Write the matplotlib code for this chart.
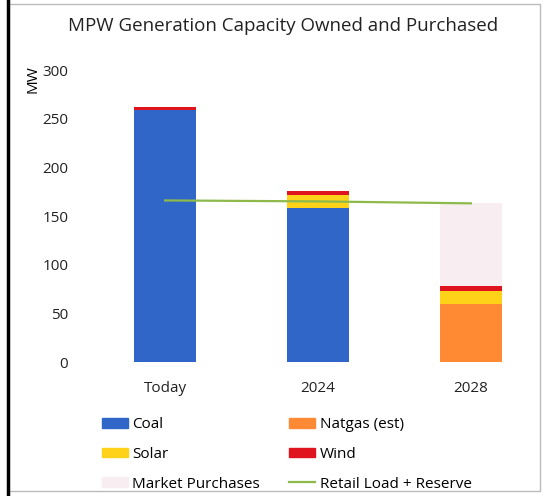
import matplotlib
matplotlib.use("Agg")
import matplotlib.pyplot as plt
import numpy as np
from matplotlib.patches import Patch, Rectangle
from matplotlib.lines import Line2D

categories = ["Today", "2024", "2028"]
coal = [259, 158, 0]
natgas = [0, 0, 60]
solar = [0, 14, 13]
wind = [3, 4, 5]
market = [0, 0, 85]
retail_load = [166, 165, 163]

colors = {
    "Coal": "#2F66C8",
    "Natgas (est)": "#FF8A33",
    "Solar": "#FFD21A",
    "Wind": "#E0141E",
    "Market Purchases": "#F8EEF1",
}
line_color = "#8DBA4A"

plt.rcParams["font.family"] = ["Open Sans", "DejaVu Sans"]

fig = plt.figure(figsize=(5.5, 4.96), dpi=100)
ax = fig.add_axes([110 / 550, 134 / 496, 420 / 550, 292 / 496])

x = np.arange(len(categories))
w = 0.40
bottom = np.zeros(len(categories))
for name, vals in [("Coal", coal), ("Natgas (est)", natgas), ("Solar", solar),
                   ("Wind", wind), ("Market Purchases", market)]:
    ax.bar(x, vals, w, bottom=bottom, color=colors[name], linewidth=0)
    bottom += np.array(vals)

ax.plot(x, retail_load, color=line_color, linewidth=1.6)

ax.set_xlim(-0.36, 2.386)
ax.set_ylim(0, 300)
ax.set_yticks(range(0, 301, 50))
ax.set_xticks(x)
ax.set_xticklabels(categories)
for s in ax.spines.values():
    s.set_visible(False)
ax.tick_params(axis="both", length=0, labelsize=11, colors="#222222")
ax.tick_params(axis="y", pad=30)
ax.tick_params(axis="x", pad=14)

fig.text(0.06, 0.84, "MW", rotation=90, fontsize=11, ha="center", va="center")
fig.text(0.515, 0.948, "MPW Generation Capacity Owned and Purchased",
         fontsize=13.5, ha="center", va="center", color="#222222")

handles = [
    Patch(color=colors["Coal"]),
    Patch(color=colors["Solar"]),
    Patch(color=colors["Market Purchases"]),
    Patch(color=colors["Natgas (est)"]),
    Patch(color=colors["Wind"]),
    Line2D([], [], color=line_color, linewidth=1.6),
]
labels = ["Coal", "Solar", "Market Purchases", "Natgas (est)", "Wind",
          "Retail Load + Reserve"]
fig.legend(handles, labels, ncol=2, loc="upper left",
           bbox_to_anchor=(0.16, 0.186), frameon=False, fontsize=11,
           handlelength=1.7, handleheight=0.6, handletextpad=0.3,
           columnspacing=1.9, labelspacing=0.95)

fig.patches.append(Rectangle((8 / 550, 5 / 496), 532 / 550, 487 / 496,
                             transform=fig.transFigure, fill=False,
                             edgecolor="#BBBBBB", linewidth=1))
fig.add_artist(Line2D([8 / 550, 8 / 550], [0, 1], color="black", linewidth=2.5,
                      transform=fig.transFigure))

fig.savefig("out.png", dpi=100)
